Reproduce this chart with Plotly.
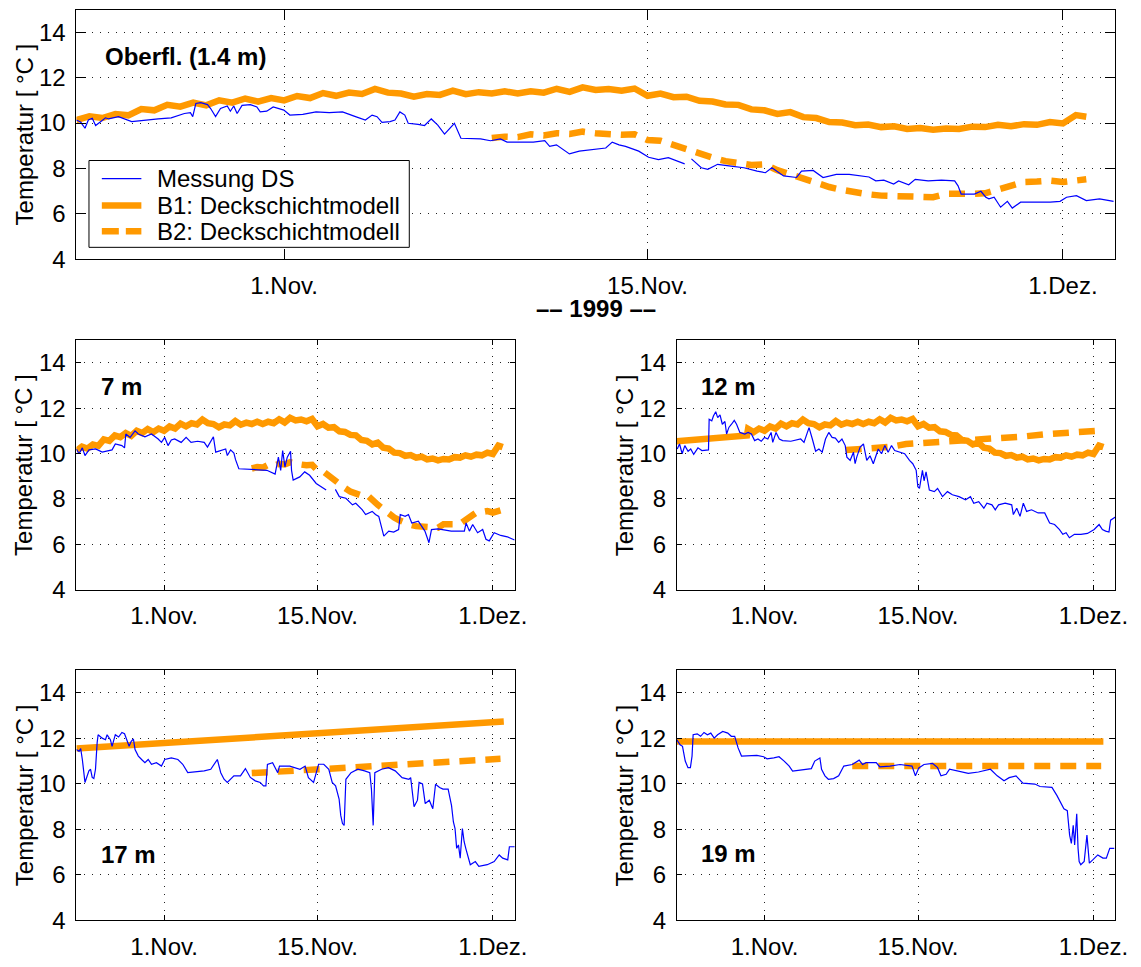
import pandas as pd
import plotly.graph_objects as go

W, H = 1141, 967
T0 = pd.Timestamp("1999-10-24")          # day 0 of all time arrays
X_RANGE = ["1999-10-24", "1999-12-03"]

tick_dates = ["1999-11-01", "1999-11-15", "1999-12-01"]
tick_labels = ["1.Nov.", "15.Nov.", "1.Dez."]
y_ticks = [4, 6, 8, 10, 12, 14]
panel_names = ["Oberfl. (1.4 m)", "7 m", "12 m", "17 m", "19 m"]
series_names = ["Messung DS", "B1: Deckschichtmodell", "B2: Deckschichtmodell"]

# ---------------------------------------------------------------------------
# Model runs (days after 24 Oct 1999, temperature in °C)
# B1 mixed-layer temperature: identical at 1.4 m, 7 m and at 12 m once mixed
b1_ml_t = [i * 0.5 for i in range(78)] + [38.9]
b1_ml_T = [
    10.13, 10.30, 10.22, 10.40, 10.34, 10.62, 10.56, 10.80, 10.72, 10.90,
    10.78, 11.00, 10.90, 11.08, 10.94, 11.10, 11.00, 11.19, 11.10, 11.32,
    11.20, 11.34, 11.28, 11.50, 11.34, 11.30, 11.16, 11.28, 11.24, 11.43,
    11.27, 11.36, 11.30, 11.40, 11.30, 11.40, 11.34, 11.51, 11.37, 11.57,
    11.46, 11.50, 11.42, 11.52, 11.20, 11.30, 11.14, 11.16, 10.98, 10.95,
    10.82, 10.80, 10.60, 10.56, 10.40, 10.48, 10.26, 10.22, 10.04, 10.02,
    9.90, 9.93, 9.82, 9.86, 9.74, 9.78, 9.70, 9.76, 9.74, 9.84,
    9.82, 9.92, 9.86, 9.95, 9.92, 10.04, 9.98, 10.35,
    10.28,
]
# B2 mixed-layer temperature (run starts 9 Nov)
b2_ml_t = [16 + i * 0.5 for i in range(46)] + [38.9]
b2_ml_T = [
    9.34, 9.40, 9.38, 9.50, 9.45, 9.55, 9.52, 9.62, 9.55, 9.50,
    9.48, 9.50, 9.25, 9.22, 9.02, 8.85, 8.65, 8.48, 8.32, 8.22,
    8.15, 8.18, 7.92, 7.74, 7.55, 7.35, 7.18, 7.05, 6.94, 6.86,
    6.80, 6.78, 6.73, 6.72, 6.73, 6.88, 6.86, 6.88, 6.90, 7.05,
    7.25, 7.40, 7.42, 7.46, 7.40, 7.45,
    7.52,
]
# 12 m: below the mixed layer until 30 Oct, then the mixed-layer curve
b1_12m_t = [0.0, 6.4] + b1_ml_t[13:]
b1_12m_T = [10.54, 10.80] + b1_ml_T[13:]
b2_12m_t = [15.4, 16.5, 18.2, 19.6, 20.9, 23.8, 25.0, 27.1, 29.2, 31.4, 33.4, 35.3, 37.4, 38.8]
b2_12m_T = [10.15, 10.18, 10.26, 10.30, 10.42, 10.50, 10.57, 10.64, 10.71, 10.74, 10.84, 10.88, 10.98, 11.02]
b1_17m_t = [0.0, 8.0, 15.0, 22.0, 30.0, 39.0]
b1_17m_T = [11.55, 11.80, 12.05, 12.28, 12.50, 12.74]
b2_17m_t = [16.0, 19.8, 23.5, 27.2, 31.3, 33.5, 38.7]
b2_17m_T = [10.47, 10.57, 10.72, 10.82, 10.90, 10.96, 11.10]
b1_19m_t = [0.0, 38.9]
b1_19m_T = [11.86, 11.86]
b2_19m_t = [16.0, 38.7]
b2_19m_T = [10.78, 10.78]

# ---------------------------------------------------------------------------
# Measurements DS (None marks a gap in the record)
ds_ob_t = [
    0.00, 0.17, 0.33, 0.46, 0.61, 0.74, 0.93, 1.12, 1.24, 1.62,
    2.13, 2.64, 3.15, 3.65, 4.16, 4.39, 4.48, 4.60, 4.79, 5.05,
    5.17, 5.36, 5.55, 5.81, 5.93, 6.06, 6.19, 6.38, 6.70, 6.95,
    7.08, 7.33, 7.58, 7.99, 8.22, 8.72, 9.23, 9.74, 10.25, 10.75,
    11.13, 11.39, 11.58, 11.77, 12.08, 12.27, 12.46, 12.65, 12.78, 13.16,
    13.41, 13.67, 13.92, 14.18, 14.37, 14.56, 14.81, 15.57, 15.95, 16.33,
    16.59, 17.10, 17.60, 18.04, 18.23, 18.49, 18.74, 18.99, 19.37, 19.88,
    20.39, 20.64, 20.90, 21.15, 21.66, 22.04, 22.42, 22.80, 23.43, 23.56,
    23.69, 24.07, 24.32, 24.70, 25.21, 25.71, 26.22, 26.54, 26.79, 26.98,
    27.24, 27.74, 27.93, 28.38, 28.76, 29.27, 29.77, 30.53, 30.79, 31.10,
    31.29, 31.48, 31.67, 32.06, 32.31, 32.81, 33.32, 33.83, 33.96, 34.08,
    34.59, 34.84, 35.03, 35.15, 35.35, 35.60, 35.86, 36.05, 36.37, 36.87,
    37.51, 37.89, 38.14, 38.52, 38.90, 39.41, 39.95,
]
ds_ob_T = [
    10.13, 10.03, 9.77, 10.13, 10.21, 9.89, 10.06, 10.23, 10.18, 10.28,
    10.06, 10.13, 10.18, 10.23, 10.42, 10.46, 10.28, 10.86, 10.90, 10.81,
    10.64, 10.28, 10.64, 10.75, 10.52, 10.75, 10.42, 10.78, 10.81, 10.71,
    10.49, 10.52, 10.71, 10.57, 10.35, 10.38, 10.49, 10.46, 10.49, 10.28,
    10.13, 10.35, 10.28, 10.03, 10.06, 10.13, 10.49, 10.35, 9.99, 9.94,
    9.89, 10.18, 9.91, 9.51, 9.77, 9.99, 9.33, 9.30, 9.22, 9.30,
    9.16, 9.16, 9.16, 9.22, 8.97, 9.04, 8.83, 8.64, 8.76, 8.83,
    8.90, 9.16, 9.04, 8.97, 8.76, 8.49, 8.39, 8.47, 8.20, None,
    8.42, 8.03, 7.96, 8.18, 8.10, 8.03, 7.88, 7.81, 8.03, 7.88,
    7.67, 7.60, 7.88, 7.91, 7.60, 7.74, 7.74, 7.62, 7.45, 7.48,
    7.38, 7.31, 7.45, 7.28, 7.52, 7.45, 7.48, 7.45, 7.23, 6.87,
    6.87, 6.99, 6.73, 6.66, 6.73, 6.29, 6.55, 6.25, 6.51, 6.51,
    6.51, 6.55, 6.73, 6.80, 6.58, 6.66, 6.55,
]

ds_7m_t = [
    0.00, 0.24, 0.54, 0.78, 1.15, 1.75, 2.35, 3.25, 3.55, 4.15,
    4.39, 4.51, 4.90, 5.35, 5.65, 6.25, 6.85, 7.46, 7.76, 8.06,
    8.36, 8.66, 8.96, 9.56, 10.01, 10.46, 11.06, 11.66, 11.96, 12.21,
    12.50, 12.71, 13.17, 13.62, 13.77, 14.07, 14.37, 14.52, 14.82, 15.87,
    16.78, 17.38, 18.13, 18.43, 18.64, 18.82, 19.03, 19.24, 19.54, 19.63,
    19.78, 20.38, 20.83, 21.28, 21.88, 22.33, 22.79, 23.20, 23.63, 23.99,
    24.59, 25.19, 25.49, 26.09, 26.39, 26.99, 27.29, 27.59, 28.05, 28.50,
    28.95, 29.40, 29.55, 30.00, 30.30, 30.60, 31.20, 31.80, 32.17, 32.40,
    33.00, 33.60, 34.20, 35.40, 35.56, 35.86, 36.16, 36.61, 37.07, 37.37,
    37.67, 38.12, 38.72, 39.32, 39.98,
]
ds_7m_T = [
    10.20, 9.99, 10.25, 9.91, 10.16, 10.20, 10.06, 10.16, 10.42, 10.35,
    10.25, 10.86, 10.71, 11.00, 10.86, 10.74, 10.86, 10.64, 10.49, 10.71,
    10.35, 10.60, 10.64, 10.49, 10.71, 10.49, 10.54, 10.49, 10.28, 10.49,
    10.74, 10.06, 10.13, 10.20, 9.91, 10.16, 10.02, 9.73, 9.33, 9.30,
    9.26, 9.26, 9.09, 9.84, 9.26, 10.13, 9.41, 9.84, 10.10, 9.26,
    8.83, 8.97, 9.19, 9.04, 8.68, 8.54, 8.39, None, 8.42, 8.10,
    8.03, 7.74, 7.81, 7.52, 7.31, 7.45, 7.31, 7.23, 6.36, 6.58,
    6.54, 6.65, 7.31, 7.23, 7.31, 6.94, 7.02, 6.58, 6.07, 6.65,
    6.68, 6.62, 6.58, 6.58, 6.94, 6.58, 6.87, 6.51, 6.65, 6.22,
    6.15, 6.51, 6.39, 6.33, 6.19,
]

ds_12m_t = [
    0.04, 0.25, 0.49, 0.73, 1.03, 1.27, 1.54, 1.93, 2.29, 2.74,
    2.89, 2.95, 3.19, 3.34, 3.55, 3.73, 3.94, 4.15, 4.39, 4.54,
    4.75, 4.99, 5.24, 5.45, 5.75, 6.20, 6.50, 6.80, 7.10, 7.40,
    7.70, 8.00, 8.30, 8.60, 8.75, 9.05, 9.35, 9.65, 10.40, 11.30,
    11.60, 11.91, 12.06, 12.36, 12.66, 12.96, 13.26, 13.56, 13.86, 14.16,
    14.46, 14.76, 15.06, 15.36, 15.51, 15.81, 16.11, 16.26, 16.41, 16.72,
    17.02, 17.32, 17.62, 17.92, 18.37, 18.67, 18.97, 19.27, 19.58, 19.87,
    20.33, 20.78, 21.22, 21.52, 21.83, 21.98, 22.13, 22.40, 22.55, 22.73,
    23.03, 23.48, 23.78, 24.23, 24.68, 25.13, 25.73, 26.33, 26.78, 27.08,
    27.53, 28.00, 28.28, 28.74, 29.04, 29.34, 29.94, 30.54, 30.69, 31.00,
    31.30, 31.60, 31.90, 32.35, 32.95, 33.55, 34.00, 34.45, 34.90, 35.20,
    35.50, 35.80, 36.26, 36.85, 37.45, 38.06, 38.51, 38.81, 39.11, 39.41,
    39.56, 40.00,
]
ds_12m_T = [
    10.20, 10.42, 9.99, 10.35, 10.10, 10.20, 9.96, 10.25, 10.13, 10.13,
    10.16, 11.51, 11.44, 11.65, 11.84, 11.58, 11.70, 11.29, 11.41, 10.86,
    11.15, 11.29, 11.46, 11.29, 10.93, 10.86, 10.93, 10.86, 10.57, 10.64,
    10.54, 10.71, 10.64, 10.93, 10.49, 10.93, 10.64, 10.57, 10.54, 10.64,
    10.49, 10.93, 11.14, 10.64, 10.10, 10.20, 10.06, 10.64, 10.93, 10.71,
    10.68, 10.49, 10.64, 10.35, 9.84, 9.70, 10.06, 9.55, 9.84, 10.28,
    10.42, 9.70, 9.90, 9.55, 10.20, 9.99, 10.35, 10.06, 10.35, 10.13,
    10.06, 9.99, 9.70, 9.55, 9.26, 8.54, 8.46, 9.26, 8.80, 9.19,
    8.39, 8.32, 8.46, 8.10, 8.32, 8.18, 8.10, 7.96, 8.10, 7.81,
    7.88, 7.59, 7.81, 7.74, 7.52, 7.74, 7.81, 7.74, 7.31, 7.59,
    7.23, 7.81, 7.45, 7.52, 7.38, 7.38, 6.94, 6.87, 6.65, 6.44,
    6.51, 6.29, 6.44, 6.44, 6.48, 6.65, 6.87, 6.65, 6.58, 6.54,
    7.06, 7.20,
]

ds_17m_t = [
    0.00, 0.24, 0.39, 0.54, 0.78, 0.99, 1.14, 1.29, 1.44, 1.59,
    1.74, 1.89, 1.98, 2.35, 2.65, 2.80, 3.10, 3.25, 3.55, 3.85,
    4.15, 4.39, 4.60, 4.81, 5.00, 5.20, 5.35, 5.65, 5.95, 6.25,
    6.55, 6.85, 7.30, 7.76, 8.06, 8.66, 9.26, 9.70, 10.16, 11.06,
    11.66, 12.26, 12.56, 12.86, 13.17, 13.47, 13.77, 14.37, 14.97, 15.42,
    15.87, 16.32, 16.77, 17.07, 17.29, 17.43, 17.90, 18.37, 18.53, 19.47,
    20.40, 20.87, 21.17, 21.64, 22.10, 22.57, 23.03, 23.34, 23.65, 23.97,
    24.12, 24.28, 24.43, 24.59, 25.06, 25.68, 26.30, 26.77, 26.92, 27.08,
    27.23, 27.85, 28.47, 29.09, 29.72, 30.34, 30.50, 30.81, 31.12, 31.27,
    31.58, 31.83, 32.20, 32.52, 32.77, 33.14, 33.45, 33.92, 34.23, 34.40,
    34.55, 34.70, 34.86, 35.02, 35.22, 35.38, 35.53, 35.78, 35.94, 36.40,
    36.72, 37.49, 38.12, 38.58, 38.90, 39.36, 39.51, 40.00,
]
ds_17m_T = [
    11.51, 11.43, 11.55, 11.07, 10.06, 10.35, 10.57, 10.64, 10.28, 10.23,
    10.64, 11.80, 12.16, 12.01, 11.94, 12.16, 11.94, 11.65, 12.16, 12.06,
    12.26, 12.20, 11.87, 11.65, 11.87, 11.97, 11.51, 11.22, 11.07, 10.93,
    11.07, 10.86, 10.93, 10.78, 11.07, 11.14, 11.07, 10.86, 10.49, 10.52,
    10.57, 10.64, 10.86, 11.07, 10.49, 10.20, 10.06, 10.35, 10.35, 10.67,
    10.28, 10.13, 10.06, 9.91, 9.91, 10.85, 10.93, 10.49, 10.78, 10.78,
    10.64, 10.78, 10.27, 10.06, 10.86, 10.86, 10.64, 10.06, 9.91, 9.33,
    8.61, 8.25, 8.17, 10.20, 10.49, 10.64, 10.57, 10.49, 9.77, 8.17,
    10.49, 10.64, 10.71, 10.57, 10.27, 10.20, 10.27, 8.99, 9.28, 10.06,
    9.99, 9.13, 9.28, 8.90, 9.98, 9.84, 9.77, 9.77, 9.04, 8.32,
    8.03, 7.16, 7.31, 6.73, 8.03, 7.45, 7.16, 6.73, 6.44, 6.58,
    6.37, 6.44, 6.58, 6.87, 6.73, 6.65, 7.23, 7.23,
]

ds_19m_t = [
    0.00, 0.30, 0.52, 0.77, 1.02, 1.24, 1.39, 1.49, 1.86, 2.17,
    2.48, 2.79, 3.10, 3.41, 3.72, 4.19, 4.65, 4.97, 5.28, 5.59,
    5.90, 6.68, 7.30, 7.92, 8.23, 8.85, 9.32, 9.79, 10.25, 10.56,
    11.34, 12.27, 12.58, 13.05, 13.20, 13.51, 13.82, 14.30, 14.76, 15.23,
    16.00, 16.63, 16.94, 17.25, 18.19, 18.50, 19.43, 20.36, 21.45, 21.76,
    22.07, 22.54, 23.32, 23.78, 24.09, 24.56, 24.87, 25.64, 26.58, 27.51,
    28.60, 29.22, 29.84, 30.31, 30.93, 31.56, 32.65, 33.12, 34.21, 34.67,
    35.30, 35.61, 35.82, 35.98, 36.15, 36.28, 36.47, 36.59, 36.69, 36.84,
    37.15, 37.40, 37.62, 37.93, 38.39, 38.86, 39.17, 39.48, 39.89,
]
ds_19m_T = [
    11.94, 11.72, 11.65, 11.00, 10.71, 10.71, 11.22, 12.16, 12.20, 12.09,
    12.26, 12.16, 12.23, 12.01, 12.16, 12.30, 12.23, 12.09, 12.09, 11.58,
    11.22, 11.25, 11.25, 11.19, 11.10, 11.14, 11.19, 11.00, 10.78, 10.56,
    10.61, 10.67, 11.00, 11.14, 10.64, 10.35, 10.20, 10.23, 10.35, 10.78,
    10.85, 11.04, 10.85, 10.93, 10.93, 10.75, 10.78, 10.85, 10.78, 10.35,
    10.70, 10.85, 10.90, 10.71, 10.35, 10.42, 10.64, 10.57, 10.46, 10.52,
    10.64, 10.35, 10.13, 10.27, 10.35, 10.03, 9.99, 9.88, 9.84, 9.48,
    8.90, 8.82, 7.74, 7.38, 8.17, 7.31, 8.68, 7.16, 6.58, 6.44,
    6.58, 7.74, 6.51, 6.65, 6.87, 6.73, 6.73, 7.16, 7.16,
]

# ---------------------------------------------------------------------------
FONT = "Liberation Sans, Arial, Helvetica, sans-serif"
FS = 24
ORANGE = "#FF9900"
BLUE = "#0000FF"
LW_MODEL = 6.5
DASH = "16px,10px"
GRID_DASH = "1px,7px"


def dates(days):
    return [T0 + pd.Timedelta(days=d) for d in days]


def px(x):
    return x / W


def py(y):
    return 1 - y / H


# panel boxes in pixels: (left, top, right, bottom)
boxes = [
    (77.3, 9.7, 1127.7, 262.7),
    (77.3, 344.7, 520.7, 597.7),
    (684.6, 344.7, 1128.3, 597.7),
    (77.3, 679.3, 520.7, 932.7),
    (684.6, 679.3, 1128.3, 932.7),
]

panels = [
    (b1_ml_t, b1_ml_T, b2_ml_t, b2_ml_T, ds_ob_t, ds_ob_T),
    (b1_ml_t, b1_ml_T, b2_ml_t, b2_ml_T, ds_7m_t, ds_7m_T),
    (b1_12m_t, b1_12m_T, b2_12m_t, b2_12m_T, ds_12m_t, ds_12m_T),
    (b1_17m_t, b1_17m_T, b2_17m_t, b2_17m_T, ds_17m_t, ds_17m_T),
    (b1_19m_t, b1_19m_T, b2_19m_t, b2_19m_T, ds_19m_t, ds_19m_T),
]

fig = go.Figure()
layout = dict(
    width=W, height=H, autosize=False,
    margin=dict(l=0, r=0, t=0, b=0),
    paper_bgcolor="white", plot_bgcolor="white",
    font=dict(family=FONT, size=FS, color="black"),
    showlegend=False,
)

for i, (box, data) in enumerate(zip(boxes, panels)):
    n = "" if i == 0 else str(i + 1)
    xa, ya = "x" + n, "y" + n
    b1t, b1T, b2t, b2T, dst, dsT = data
    fig.add_trace(go.Scatter(x=dates(b1t), y=b1T, mode="lines", name=series_names[1],
                             line=dict(color=ORANGE, width=LW_MODEL), xaxis=xa, yaxis=ya))
    fig.add_trace(go.Scatter(x=dates(b2t), y=b2T, mode="lines", name=series_names[2],
                             line=dict(color=ORANGE, width=LW_MODEL, dash=DASH), xaxis=xa, yaxis=ya))
    fig.add_trace(go.Scatter(x=dates(dst), y=dsT, mode="lines", name=series_names[0],
                             line=dict(color=BLUE, width=1.2), connectgaps=False, xaxis=xa, yaxis=ya))

    l, t, r, b = box
    tl = 10 if i == 0 else 5
    common = dict(ticks="inside", ticklen=tl, tickwidth=1, tickcolor="black",
                  showline=True, linecolor="black", linewidth=1, mirror="ticks",
                  showgrid=True, gridcolor="#222", gridwidth=1, griddash=GRID_DASH,
                  zeroline=False, tickfont=dict(family=FONT, size=FS, color="black"))
    layout["xaxis" + n] = dict(domain=[px(l), px(r)], anchor=ya, type="date", range=X_RANGE,
                               tickmode="array", tickvals=tick_dates, ticktext=tick_labels,
                               ticklabelstandoff=5, **common)
    layout["yaxis" + n] = dict(domain=[py(b), py(t)], anchor=xa, range=[4, 15],
                               tickmode="array", tickvals=y_ticks,
                               ticklabelstandoff=5, **common)

annotations = []
shapes = []

# y-axis titles
for l, t, r, b in boxes:
    annotations.append(dict(text="Temperatur [ °C ]", textangle=-90, showarrow=False,
                            xref="paper", yref="paper", x=px(l - 53), y=py((t + b) / 2),
                            xanchor="center", yanchor="middle",
                            font=dict(family=FONT, size=FS, color="black")))

# panel labels (depth)
label_pos = [(104, 57), (100, 392), (707, 392), (100, 866), (707, 865)]
for name, (lx, ly) in zip(panel_names, label_pos):
    annotations.append(dict(text="<b>" + name + "</b>", showarrow=False,
                            xref="paper", yref="paper", x=px(lx), y=py(ly),
                            xanchor="left", yanchor="middle",
                            font=dict(family=FONT, size=FS, color="black")))

# year label under the top panel
annotations.append(dict(text="<b>–– 1999 ––</b>", showarrow=False,
                        xref="paper", yref="paper", x=px(602.5), y=py(313),
                        xanchor="center", yanchor="middle",
                        font=dict(family=FONT, size=FS, color="black")))

# legend box in the top panel
shapes.append(dict(type="rect", xref="paper", yref="paper", layer="above",
                   x0=px(90), x1=px(414), y0=py(250.7), y1=py(162.7),
                   fillcolor="white", line=dict(color="black", width=1)))
legend_rows = [181, 208.3, 234.3]
legend_styles = [dict(color=BLUE, width=1.2),
                 dict(color=ORANGE, width=LW_MODEL),
                 dict(color=ORANGE, width=LW_MODEL, dash="17px,7px")]
for name, ly, st in zip(series_names, legend_rows, legend_styles):
    shapes.append(dict(type="line", xref="paper", yref="paper", layer="above",
                       x0=px(103), x1=px(143), y0=py(ly), y1=py(ly), line=st))
    annotations.append(dict(text=name, showarrow=False, xref="paper", yref="paper",
                            x=px(156.7), y=py(ly), xanchor="left", yanchor="middle",
                            font=dict(family=FONT, size=FS, color="black")))

layout["annotations"] = annotations
layout["shapes"] = shapes
fig.update_layout(**layout)

fig.write_html("out.html")
